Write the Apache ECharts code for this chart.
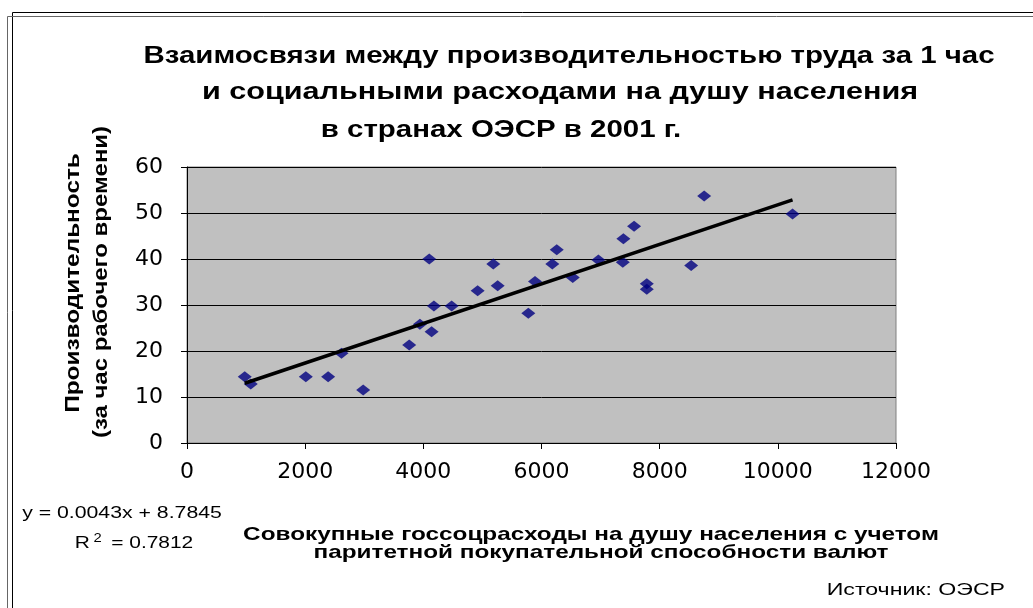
<!DOCTYPE html>
<html>
<head>
<meta charset="utf-8">
<script src="https://cdn.jsdelivr.net/npm/echarts@6/dist/echarts.min.js"></script>
<style>
html,body{margin:0;padding:0;background:#fff;}
#c{width:1033px;height:608px;}
</style>
</head>
<body>
<div id="c"></div>
<script>
// ---- data ----
const spendX = [977, 1079, 2011, 2389, 2615, 2982, 3761, 3942, 4140, 4100, 4179, 4479, 4919, 5184, 5258, 5777, 5890, 6183, 6258, 6529, 6963, 7386, 7376, 7567, 7782, 7782, 8533, 8753, 10249];
const productivityY = [14.4, 12.8, 14.4, 14.4, 19.5, 11.5, 21.3, 25.8, 24.2, 40.0, 29.8, 29.8, 33.1, 38.9, 34.2, 28.2, 35.1, 38.9, 42.0, 36.0, 39.8, 44.4, 39.3, 47.1, 34.6, 33.4, 38.6, 53.7, 49.8];
const trendSlope = 0.0043;
const trendIntercept = 8.7845;
const trendR2 = 0.7812;
const xTicks = [0, 2000, 4000, 6000, 8000, 10000, 12000];
const yTicks = [0, 10, 20, 30, 40, 50, 60];
const titleLines = ['Взаимосвязи между производительностью труда за 1 час', 'и социальными расходами на душу населения', 'в странах ОЭСР в 2001 г.'];
const yName = ['Производительность', '(за час рабочего времени)'];
const xName = ['Совокупные госсоцрасходы на душу населения с учетом', 'паритетной покупательной способности валют'];
const sourceText = 'Источник: ОЭСР';

const points = spendX.map((x, i) => [x, productivityY[i]]);
const xMin = Math.min(...spendX), xMax = Math.max(...spendX);
const trend = [[xMin, trendSlope * xMin + trendIntercept], [xMax, trendSlope * xMax + trendIntercept]];

const FONT = '"Liberation Sans", Arial, sans-serif';
const TICKFONT = '"DejaVu Sans", sans-serif';
const chart = echarts.init(document.getElementById('c'), null, {renderer: 'canvas'});

const titleCenters = [[569, 57], [560, 93], [501, 131]];
const titleScales = [1.28, 1.33, 1.28];
const graphics = [];
// borders
graphics.push({type: 'polyline', shape: {points: [[12.5, 608], [12.5, 12.5], [1033, 12.5]]}, style: {stroke: '#000', lineWidth: 1, fill: null}});
graphics.push({type: 'polyline', shape: {points: [[7.5, 608], [7.5, 16.5], [1033, 16.5]]}, style: {stroke: '#666', lineWidth: 1, fill: null}});
titleLines.forEach((t, i) => {
  graphics.push({type: 'text', x: titleCenters[i][0], y: titleCenters[i][1], scaleX: titleScales[i],
    style: {text: t, font: 'bold 23px ' + FONT, fill: '#000', textAlign: 'center', textVerticalAlign: 'middle'}});
});
[[73, 283, 1.16], [101, 282, 1.14]].forEach((p, i) => {
  graphics.push({type: 'text', x: p[0], y: p[1], rotation: Math.PI / 2, scaleX: p[2],
    style: {text: yName[i], font: 'bold 21px ' + FONT, fill: '#000', textAlign: 'center', textVerticalAlign: 'middle'}});
});
[[591, 535], [601, 553]].forEach((p, i) => {
  graphics.push({type: 'text', x: p[0], y: p[1], scaleX: 1.28,
    style: {text: xName[i], font: 'bold 19px ' + FONT, fill: '#000', textAlign: 'center', textVerticalAlign: 'middle'}});
});
graphics.push({type: 'text', x: 122, y: 513, scaleX: 1.25,
  style: {text: 'y = ' + trendSlope + 'x + ' + trendIntercept, font: '17px ' + FONT, fill: '#000', textAlign: 'center', textVerticalAlign: 'middle'}});
graphics.push({type: 'text', x: 134, y: 543, scaleX: 1.23,
  style: {text: 'R{s|2} = ' + trendR2, font: '17px ' + FONT, fill: '#000', textAlign: 'center', textVerticalAlign: 'middle',
    rich: {s: {font: '12px ' + FONT, verticalAlign: 'top', padding: [0, 3, 8, 3]}}}});
graphics.push({type: 'text', x: 1005, y: 590, scaleX: 1.36,
  style: {text: sourceText, font: '17px ' + FONT, fill: '#000', textAlign: 'right', textVerticalAlign: 'middle'}});

chart.setOption({
  animation: false,
  backgroundColor: '#fff',
  grid: {left: 187, top: 167, right: 137, bottom: 165, show: true, backgroundColor: '#C0C0C0', borderColor: '#808080', borderWidth: 1},
  xAxis: {
    type: 'value', min: xTicks[0], max: xTicks[xTicks.length - 1], interval: 2000,
    axisLine: {show: true, onZero: false, lineStyle: {color: '#000', width: 1}},
    axisTick: {show: true, inside: false, length: 6, lineStyle: {color: '#000'}},
    axisLabel: {fontSize: 22, fontFamily: TICKFONT, color: '#000', margin: 18, formatter: v => String(v)},
    splitLine: {show: false}
  },
  yAxis: {
    type: 'value', min: yTicks[0], max: yTicks[yTicks.length - 1], interval: 10,
    axisLine: {show: true, onZero: false, lineStyle: {color: '#000', width: 1}},
    axisTick: {show: true, inside: false, length: 6, lineStyle: {color: '#000'}},
    axisLabel: {fontSize: 22, fontFamily: TICKFONT, color: '#000', margin: 24, formatter: v => String(v)},
    splitLine: {show: true, lineStyle: {color: '#000', width: 1}}
  },
  series: [
    {type: 'scatter', data: points, symbol: 'diamond', symbolSize: [14, 11], itemStyle: {color: '#000080'}, z: 3},
    {type: 'line', data: trend, symbol: 'none', lineStyle: {color: '#000', width: 3.5}, z: 4, silent: true}
  ],
  graphic: graphics
});
</script>
</body>
</html>
